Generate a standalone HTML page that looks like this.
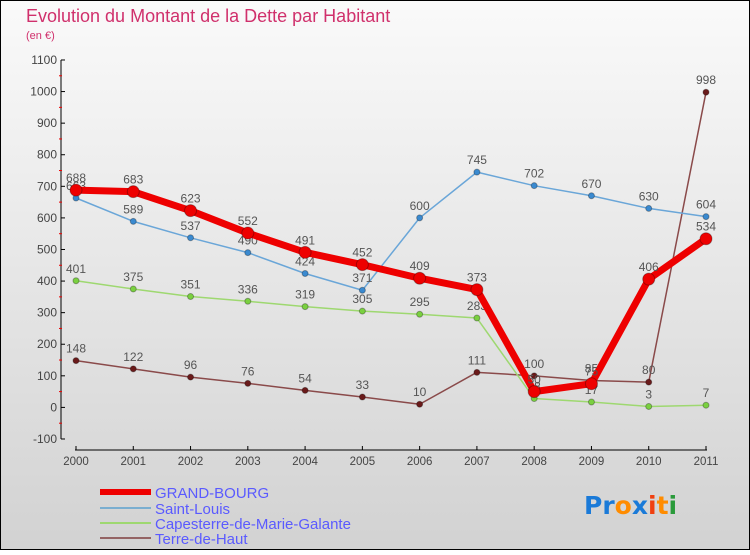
<!DOCTYPE html>
<html><head><meta charset="utf-8"><style>
body{margin:0;width:750px;height:550px;overflow:hidden;font-family:"Liberation Sans",sans-serif}
</style></head><body>
<svg id="c" width="750" height="550" xmlns="http://www.w3.org/2000/svg">
<defs><linearGradient id="bg" x1="0" y1="0" x2="0" y2="1"><stop offset="0" stop-color="#fafafa"/><stop offset="1" stop-color="#d2d2d2"/></linearGradient></defs>
<rect x="0.5" y="0.5" width="749" height="549" fill="url(#bg)" stroke="#000"/>
<text x="26" y="22" font-size="18" fill="#d0306c" font-weight="300">Evolution du Montant de la Dette par Habitant</text>
<text x="26" y="39" font-size="11" fill="#d0306c">(en €)</text>
<g id="axes"></g><g id="series"></g>
<g>
<line x1="100" y1="492" x2="151" y2="492" stroke="#e00" stroke-width="6"/>
<text x="155" y="498" font-size="15" fill="#5a5aff">GRAND-BOURG</text>
<line x1="100" y1="508" x2="151" y2="508" stroke="#7aaed0" stroke-width="2"/>
<text x="155" y="514" font-size="15" fill="#5a5aff">Saint-Louis</text>
<line x1="100" y1="523" x2="151" y2="523" stroke="#9ed870" stroke-width="2"/>
<text x="155" y="529" font-size="15" fill="#5a5aff">Capesterre-de-Marie-Galante</text>
<line x1="100" y1="538" x2="151" y2="538" stroke="#946464" stroke-width="2"/>
<text x="155" y="544" font-size="15" fill="#5a5aff">Terre-de-Haut</text>
</g>
<g font-size="25" font-family="'DejaVu Sans',sans-serif" font-weight="bold">
<text x="584" y="514"><tspan fill="#1a7ad8">Pr</tspan><tspan fill="#ff8c00">o</tspan><tspan fill="#1a7ad8">x</tspan><tspan fill="#f04010">i</tspan><tspan fill="#ff8c00">t</tspan><tspan fill="#2a9a3a">i</tspan></text>
</g>
</svg>
<script>
const years=["2000","2001","2002","2003","2004","2005","2006","2007","2008","2009","2010","2011"];
const yTicks=[-100,0,100,200,300,400,500,600,700,800,900,1000,1100];
const grandBourg=[688,683,623,552,491,452,409,373,50,75,406,534];
const saintLouis=[663,589,537,490,424,371,600,745,702,670,630,604];
const capesterre=[401,375,351,336,319,305,295,283,28,17,3,7];
const terreDeHaut=[148,122,96,76,54,33,10,111,100,85,80,998];
const NS="http://www.w3.org/2000/svg";
const X=i=>76+i*(630/11);
const Y=v=>407.4-v*(379/1200);
function mk(t,a,p){const e=document.createElementNS(NS,t);for(const k in a)e.setAttribute(k,a[k]);p.appendChild(e);return e;}
const ax=document.getElementById('axes');
let yl=mk('line',{x1:61,y1:Y(1100),x2:61,y2:Y(-100),stroke:'#000'},ax);

yTicks.forEach(v=>{
 mk('line',{x1:61,y1:Y(v),x2:65,y2:Y(v),stroke:'#000'},ax);
 if(v<1100) mk('line',{x1:59,y1:Y(v+50),x2:62,y2:Y(v+50),stroke:'#e00'},ax);
 const t=mk('text',{x:57,y:Y(v)+4,'font-size':12,fill:'#444','text-anchor':'end'},ax);t.textContent=v;
 
});
let xl=mk('line',{x1:75,y1:450,x2:707,y2:450,stroke:'#000'},ax);

years.forEach((y,i)=>{
 mk('line',{x1:X(i),y1:446,x2:X(i),y2:450,stroke:'#000'},ax);
 const t=mk('text',{x:X(i),y:465,'font-size':11.5,fill:'#444','text-anchor':'middle'},ax);t.textContent=y;
 
});
const sg=document.getElementById('series');
function series(name,vals,col,w,r,dot){
 const g=mk('g',{},sg);
 
 
 mk('polyline',{points:vals.map((v,i)=>X(i)+','+Y(v)).join(' '),fill:'none',stroke:col,'stroke-width':w,'stroke-linejoin':'round'},g);
 vals.forEach((v,i)=>{
  const c=mk('circle',{cx:X(i),cy:Y(v),r:r,fill:dot,stroke:'rgba(0,0,0,0.3)'},g);
  
  
  const t=mk('text',{x:X(i),y:Y(v)-8,'font-size':12,fill:'#555','text-anchor':'middle'},g);t.textContent=v;
 });
}
series('terre-de-haut',terreDeHaut,'#8a4a4a',1.5,3,'#6a1a1a');
series('capesterre',capesterre,'#9ed870',1.5,3,'#7ad040');
series('saint-louis',saintLouis,'#6aa6d8',1.5,3,'#3a8ad0');
series('grand-bourg',grandBourg,'#ee0000',7,6,'#ee0000');
</script>
</body></html>
